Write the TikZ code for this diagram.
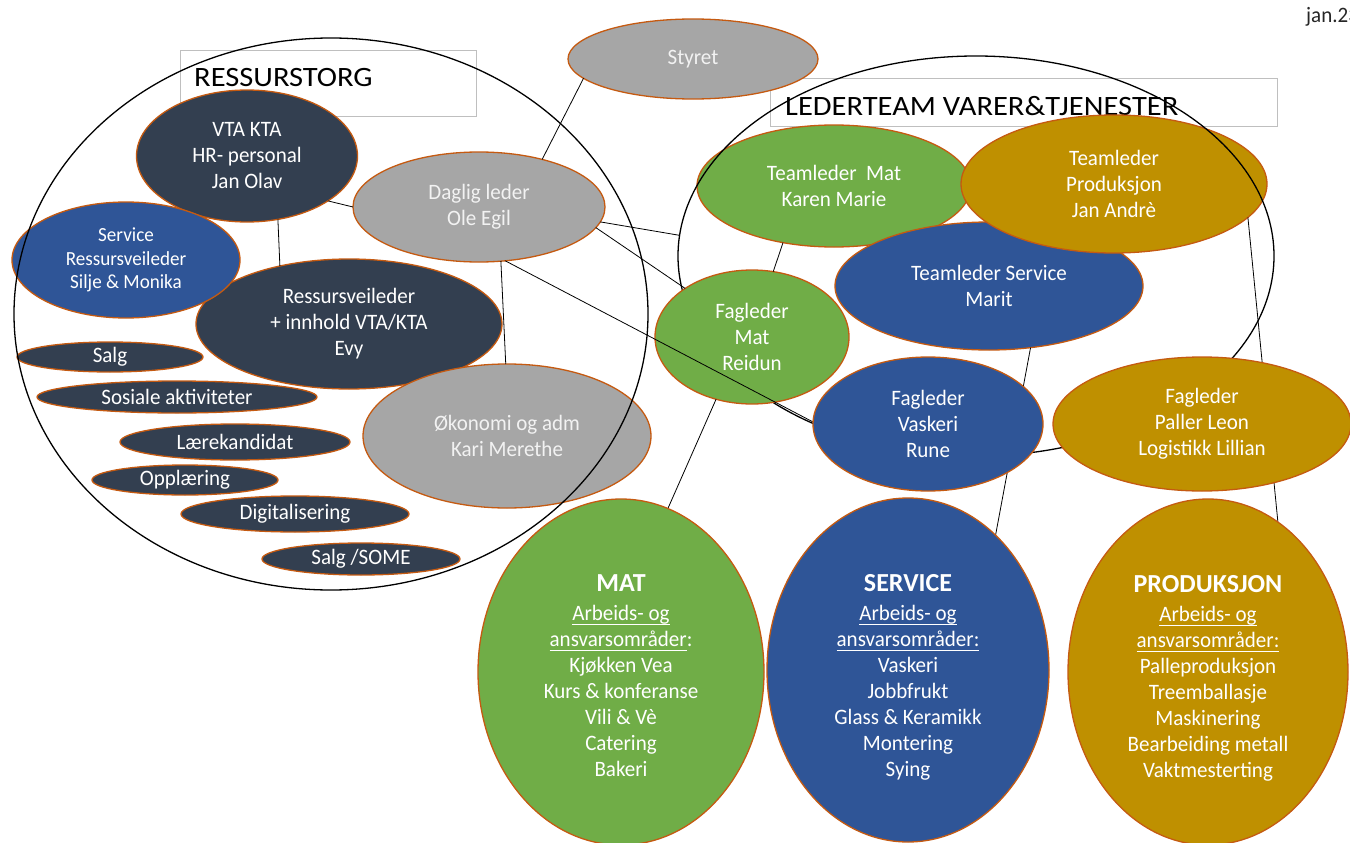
\documentclass[tikz,border=0pt]{standalone}
\usepackage{fontspec}
\setmainfont{Carlito}[FakeStretch=0.955]
\newfontfamily\titlefont{Carlito}[FakeStretch=1.09]
\newfontfamily\plainfont{Carlito}
\usetikzlibrary{shapes.geometric}
\pgfdeclarelayer{front}
\pgfsetlayers{main,front}
\definecolor{navy}{HTML}{333F50}
\definecolor{blu}{HTML}{2F5597}
\definecolor{grn}{HTML}{70AD47}
\definecolor{gld}{HTML}{BF9000}
\definecolor{gry}{HTML}{A6A6A6}
\definecolor{gtext}{HTML}{F2F2F2}
\definecolor{brd}{HTML}{C55A11}
\definecolor{boxgray}{HTML}{BFBFBF}
\newcommand{\bigttl}[2]{\rule{0pt}{#1pt}{\plainfont\fontsize{26}{28}\selectfont\bfseries #2}}
\newcommand{\myul}[1]{\setbox0\hbox{#1}\rlap{\rule[-4.5pt]{\wd0}{1.1pt}}\box0}
\tikzset{
  oval/.style={ellipse, draw=brd, line width=1.3pt, inner sep=0pt, outer sep=0pt,
    align=center, text=white, font=\fontsize{22}{26}\selectfont},
  sz/.style 2 args={minimum width=#1pt, minimum height=#2pt},
  encl/.style={ellipse, draw=black, line width=1.3pt, inner sep=0pt},
  conn/.style={draw=black, line width=0.8pt},
  titlebox/.style={draw=boxgray, line width=1pt, inner sep=0pt},
  titletext/.style={font=\titlefont\fontsize{28}{32}\selectfont, text=black, inner sep=0pt, anchor=base west},
}
\begin{document}
\begin{tikzpicture}[x=1pt,y=-1pt]
\useasboundingbox (0,0) rectangle (1350,843);
\fill[white] (0,0) rectangle (1350,843);

% title boxes
\node[titlebox, minimum width=296pt, minimum height=65pt] (torgbox) at (328,83.5) {};
\node[titletext] (torgtitle) at (194,87) {RESSURSTORG};
\node[titlebox, minimum width=507pt, minimum height=47pt] (ltbox) at (1023.5,102.5) {};
\node[titletext] (lttitle) at (785,115) {LEDERTEAM VARER\&TJENESTER};
\node[font=\fontsize{22}{26}\selectfont, text=black!85, anchor=base west, inner sep=0pt] (date) at (1306,23) {jan.23};

% left group
\node[oval, fill=navy, sz={221}{132}] (vta) at (247,156) {VTA KTA\\HR- personal\\Jan Olav};
\node[oval, fill=navy, sz={306}{130}] (rv) at (349,324) {Ressursveileder\\+ innhold VTA/KTA\\Evy};
\node[oval, fill=blu, sz={228}{116}, font=\fontsize{20}{23.5}\selectfont] (srv) at (126,260) {Service\\Ressursveileder\\Silje \& Monika};
\node[oval, fill=gry, text=gtext, sz={252}{110}] (dl) at (479,207) {Daglig leder\\Ole Egil};
\node[oval, fill=gry, text=gtext, sz={288}{144}] (ok) at (507,436) {Økonomi og adm\\Kari Merethe};
\node[oval, fill=navy, sz={186}{30}] (salg) at (110,357) {Salg};
\node[oval, fill=navy, sz={280}{32}] (sos) at (177,397) {Sosiale aktiviteter};
\node[oval, fill=navy, sz={230}{36}] (laer) at (235,442) {Lærekandidat};
\node[oval, fill=navy, sz={186}{30}] (oppl) at (185,480) {Opplæring};
\node[oval, fill=navy, sz={228}{36}] (dig) at (295,514) {Digitalisering};
\node[oval, fill=navy, sz={198}{32}] (some) at (361,559) {Salg /SOME};
\node[encl, sz={634}{552}] (torg) at (331,314) {};

% right group
\node[oval, fill=gry, text=gtext, sz={250}{80}] (sty) at (693,59) {Styret};
\node[oval, fill=grn, sz={274}{122}] (tm) at (834,186) {Teamleder\ \ Mat\\Karen Marie};
\node[oval, fill=blu, sz={308}{128}] (ts) at (989,286) {Teamleder Service\\Marit};
\node[oval, fill=gld, sz={306}{138}] (tp) at (1114,184) {Teamleder\\Produksjon\\Jan Andrè};
\node[encl, sz={596}{400}] (lt) at (976,256) {};
\node[oval, fill=grn, sz={194}{134}] (fm) at (752,337) {Fagleder\\Mat\\Reidun};

\begin{pgfonlayer}{front}
\node[oval, fill=blu, sz={230}{134}] (vk) at (928,424) {Fagleder\\Vaskeri\\Rune};
\node[oval, fill=gld, sz={298}{134}] (pl) at (1202,424) {Fagleder\\Paller Leon\\Logistikk Lillian};
\node[oval, fill=grn, sz={286}{346}] (mat) at (621,672) {\bigttl{25}{MAT}\\[3pt]\myul{Arbeids- og}\\\myul{ansvarsområder}:\\Kjøkken Vea\\Kurs \& konferanse\\Vili \& Vè\\Catering\\Bakeri};
\node[oval, fill=blu, sz={282}{344}] (svc) at (908,670) {\bigttl{31}{SERVICE}\\[3pt]\myul{Arbeids- og}\\\myul{ansvarsområder:}\\Vaskeri\\Jobbfrukt\\Glass \& Keramikk\\Montering\\Sying};
\node[oval, fill=gld, sz={280}{346}] (prd) at (1208,672) {\bigttl{29}{PRODUKSJON}\\[3pt]\myul{Arbeids- og}\\\myul{ansvarsområder:}\\Palleproduksjon\\Treemballasje\\Maskinering\\Bearbeiding metall\\Vaktmesterting};
\end{pgfonlayer}

% connectors
\draw[conn] (sty.-170) -- (dl.37);
\draw[conn] (vta.-29) -- (dl.180);
\draw[conn] (vta.-64) -- (rv.140);
\draw[conn] (dl.-68) -- (ok.91);
\draw[conn] (dl.-7) -- (lt.176);
\draw[conn] (dl.-10) -- (fm.144);
\draw[conn] (dl.-64) -- (vk.179);
\draw[conn] (tm.-132) -- (fm.72);
\draw[conn] (fm.-120) -- (mat.74);
\draw[conn] (ts.-56) -- (svc.57);
\draw[conn] (tp.-14) -- (prd.65);
\end{tikzpicture}
\end{document}
